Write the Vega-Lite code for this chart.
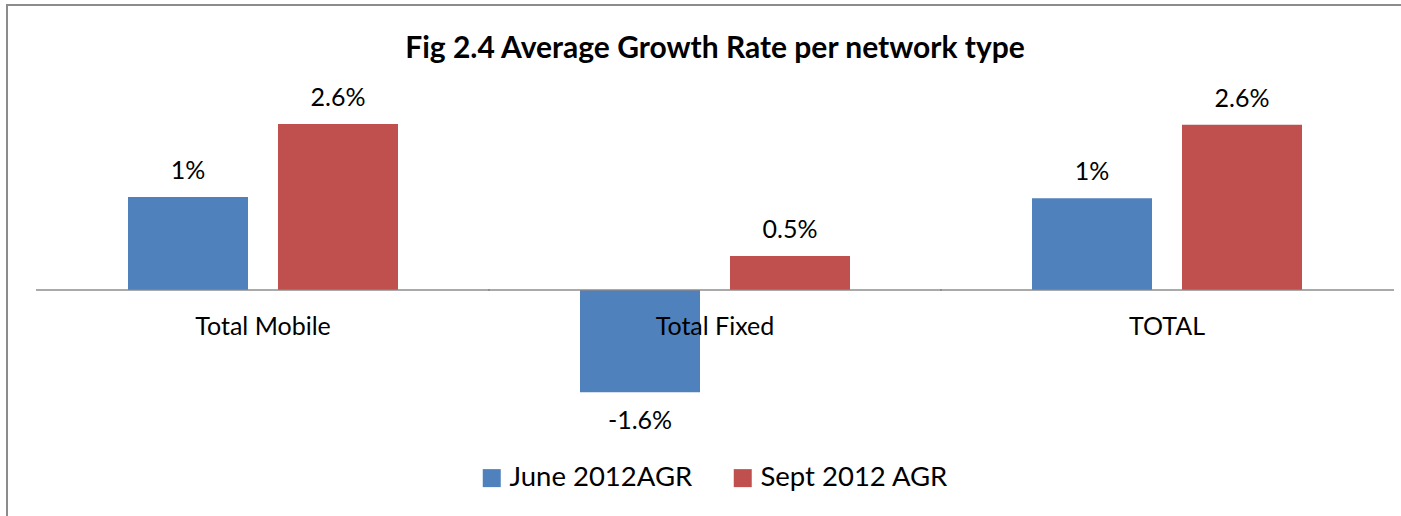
{
  "$schema": "https://vega.github.io/schema/vega-lite/v6.json",
  "autosize": {"type": "none"},
  "padding": {"left": 7, "top": 5, "right": -22, "bottom": -30},
  "width": 1416,
  "height": 541,
  "background": "white",
  "config": {
    "view": {"stroke": "#8c8c8c", "strokeWidth": 2},
    "font": "Lato",
    "text": {"font": "Lato", "fontSize": 25, "color": "#000000"}
  },
  "title": {
    "text": "Fig 2.4 Average Growth Rate per network type",
    "font": "Lato",
    "fontSize": 30,
    "fontWeight": "bold",
    "color": "#000000",
    "anchor": "middle",
    "frame": "group",
    "offset": -59
  },
  "data": {
    "values": [
      {"network": "Total Mobile", "series": "June 2012AGR", "rate": 0.0145, "label": "1%"},
      {"network": "Total Mobile", "series": "Sept 2012 AGR", "rate": 0.0259, "label": "2.6%"},
      {"network": "Total Fixed", "series": "June 2012AGR", "rate": -0.016, "label": "-1.6%"},
      {"network": "Total Fixed", "series": "Sept 2012 AGR", "rate": 0.0053, "label": "0.5%"},
      {"network": "TOTAL", "series": "June 2012AGR", "rate": 0.0143, "label": "1%"},
      {"network": "TOTAL", "series": "Sept 2012 AGR", "rate": 0.0258, "label": "2.6%"}
    ]
  },
  "encoding": {
    "x": {
      "field": "network",
      "type": "nominal",
      "sort": ["Total Mobile", "Total Fixed", "TOTAL"],
      "scale": {"paddingInner": 0, "paddingOuter": 0.06637, "align": 0.5},
      "axis": null
    }
  },
  "layer": [
    {
      "mark": {"type": "bar"},
      "encoding": {
        "xOffset": {
          "field": "series",
          "sort": ["June 2012AGR", "Sept 2012 AGR"],
          "scale": {"paddingInner": 0.2, "paddingOuter": 0.6067}
        },
        "y": {
          "field": "rate",
          "type": "quantitative",
          "scale": {"domain": [-0.04, 0.0445], "nice": false, "zero": true},
          "axis": null
        },
        "color": {
          "field": "series",
          "type": "nominal",
          "scale": {"domain": ["June 2012AGR", "Sept 2012 AGR"], "range": ["#4F81BD", "#C0504D"]},
          "legend": {
            "orient": "none",
            "legendX": 471,
            "legendY": 459,
            "direction": "horizontal",
            "title": null,
            "symbolType": "square",
            "symbolSize": 324,
            "symbolStrokeWidth": 0,
            "labelFont": "Lato",
            "labelFontSize": 27.5,
            "labelColor": "#000000",
            "labelLimit": 0,
            "labelOffset": 4,
            "columnPadding": 36
          }
        }
      }
    },
    {
      "transform": [{"filter": "datum.series === 'June 2012AGR'"}],
      "mark": {"type": "tick", "color": "#868686", "thickness": 2, "size": 454, "orient": "horizontal"},
      "encoding": {"y": {"datum": 0, "type": "quantitative"}}
    },
    {
      "transform": [{"filter": "datum.rate >= 0"}],
      "mark": {"type": "text", "baseline": "alphabetic", "dy": -18},
      "encoding": {
        "xOffset": {"field": "series", "sort": ["June 2012AGR", "Sept 2012 AGR"]},
        "y": {"field": "rate", "type": "quantitative"},
        "text": {"field": "label"}
      }
    },
    {
      "transform": [{"filter": "datum.rate < 0"}],
      "mark": {"type": "text", "baseline": "alphabetic", "dy": 37},
      "encoding": {
        "xOffset": {"field": "series", "sort": ["June 2012AGR", "Sept 2012 AGR"]},
        "y": {"field": "rate", "type": "quantitative"},
        "text": {"field": "label"}
      }
    },
    {
      "transform": [{"filter": "datum.series === 'June 2012AGR'"}],
      "mark": {"type": "text", "baseline": "alphabetic", "dy": 45},
      "encoding": {
        "y": {"datum": 0, "type": "quantitative"},
        "text": {"field": "network"}
      }
    }
  ]
}
